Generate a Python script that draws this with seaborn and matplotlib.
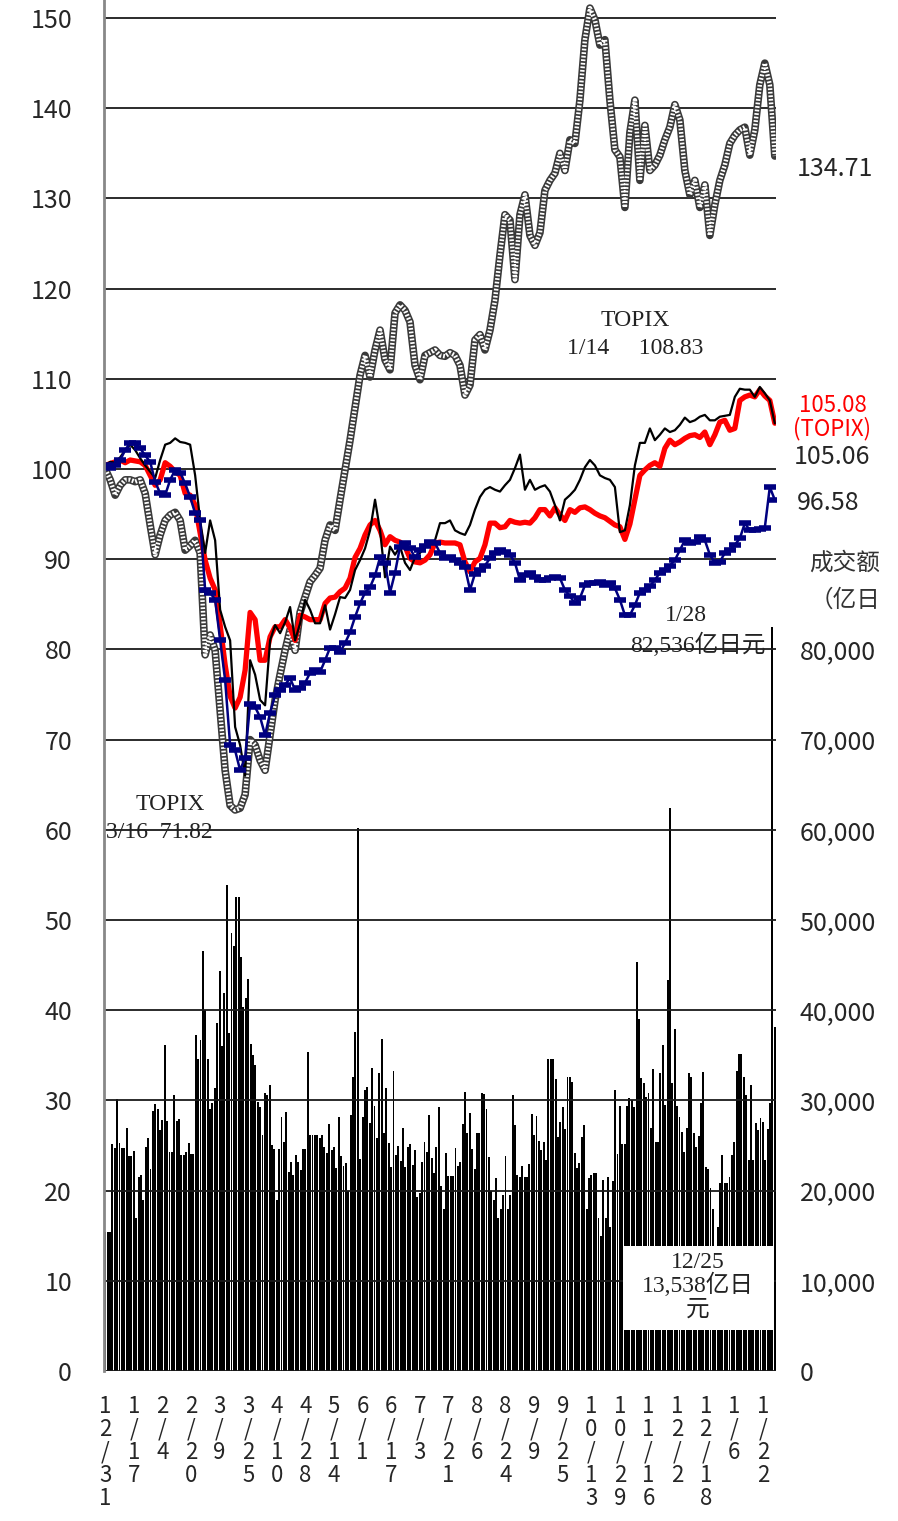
import matplotlib
matplotlib.use("Agg")
import numpy as np
import matplotlib.pyplot as plt
from matplotlib.patches import Rectangle
from matplotlib.ticker import FuncFormatter
import seaborn as sns

W, H = 898, 1521

# daily turnover (亿日元)
volume = [
    15400, 15400, 15400, 25200, 24700, 30200, 25300, 24700, 24700, 26900, 23800, 23800, 24400,
    17000, 21500, 21700, 19000, 24800, 25800, 22400, 28800, 29600, 29000, 26700, 27800, 36100,
    27700, 24300, 24300, 30600, 27700, 27900, 23900, 23900, 24300, 25300, 24100, 24100,
    37300, 34600, 36700, 46600, 40000, 34600, 29000, 29700, 31400, 38600, 44300, 36000, 41900,
    53900, 37500, 48600, 47100, 52500, 52500, 45900, 40400, 41400, 43500, 36300, 35000, 33900,
    29800, 29300, 26200, 30800, 30600, 31700, 25100, 24600,
    19000, 24600, 28200, 25400, 28700, 22100, 23200, 21700, 23900, 23200, 22300, 24600, 24600,
    35400, 26200, 26200, 26200, 26200, 25800, 26200, 24800, 24200, 27400, 24500, 24800, 22500,
    28200, 23800, 22700, 23100, 20000,
    28400, 32600, 37600, 60200, 23500, 28200, 31200, 31500, 27500, 33600, 29400, 25800, 33000,
    36800, 26400, 31400, 25300, 22600, 33300, 24000,
    24900, 23300, 26900, 22600, 24800, 25200, 22800, 24500, 19300, 19700, 23200, 25400, 24300,
    28400, 23600, 22000, 24800, 29300, 20500, 18000,
    24200, 21600, 21600, 21600, 24700, 22700, 23200, 27400, 30900, 26400, 28600, 24600, 22400,
    26400, 26400, 30800, 30700, 29000, 23700, 20000, 19000, 21400, 17000, 18000, 19500, 23800,
    18000, 19500,
    30600, 27300, 21700, 21500, 22700, 21500, 21500, 23000, 28500, 26200, 28300, 25500, 24500,
    25400, 23400, 34600, 34600, 34600, 32400, 25900, 27600, 29300, 26800, 32600, 32600, 32000,
    24200, 22500, 23100, 25900, 27300,
    18000, 21400, 21700, 22000, 22000, 17000, 15000, 21200, 17000, 21500, 16000, 21100, 31200,
    24100, 29400, 25200, 25200, 29400, 30300, 30000, 29300,
    45300, 39000, 32500, 31900, 30400, 30800, 26900, 33500, 25400, 25400, 33000, 36100, 29500,
    43300, 62400, 31900, 37900, 29400, 28200, 26500, 24300, 26900, 33000, 32600, 26400, 24800,
    26100, 29700, 33100, 22600, 22400, 20300,
    18000, 13538, 16000, 20800, 23900, 20800, 20800, 21500, 23900, 25400, 33300, 35100, 35100,
    32600, 30600, 23400, 31700, 23400, 27500, 26700, 28000, 27600, 23400, 26800, 29700, 82536,
    38100,
]

# index lines (12/31 = 100), one reading every two trading days
gray_idx = [
    100.0, 98.8, 97.1, 98.2, 98.8, 98.8, 98.6, 98.8, 97.3, 93.8, 90.5, 92.7, 94.3, 94.9, 95.2,
    94.3, 91.0, 91.5, 92.1, 90.7, 79.4, 81.6, 79.9, 73.3, 66.6, 62.7, 62.2, 62.4, 63.9, 70.0,
    69.4, 67.7, 66.6, 70.5, 74.4, 77.2, 79.9, 82.2, 79.9, 84.1, 85.8, 87.5, 88.2, 89.0, 92.1,
    93.8, 93.2, 96.6, 99.9, 103.2, 106.8, 110.4, 112.6, 110.2, 113.2, 115.4, 112.1, 111.0, 117.3,
    118.2, 117.6, 116.3, 111.5, 109.9, 112.6, 112.9, 113.2, 112.6, 112.5, 112.9, 112.6, 111.5,
    108.2, 109.3, 114.3, 114.9, 113.2, 115.4, 118.7, 123.7, 128.2, 127.6, 121.0, 128.2, 130.4,
    125.9, 124.8, 126.2, 130.9, 132.0, 132.8, 135.0, 133.1, 136.5, 136.1, 140.9, 147.6, 151.1,
    149.8, 147.0, 147.6, 140.9, 135.4, 134.6, 129.0, 137.3, 140.9, 132.0, 138.1, 133.1, 133.7,
    134.8, 136.5, 137.9, 140.4, 138.7, 133.1, 130.4, 132.0, 129.0, 131.5, 125.9, 129.3, 132.0,
    133.7, 136.1, 137.0, 137.6, 137.9, 134.8, 137.6, 142.6, 145.0, 142.6, 134.7,
]
black_idx = [
    100.4, 100.8, 100.7, 101.3, 102.1, 102.7, 102.1, 101.2, 100.4, 99.7, 99.0, 101.0, 102.7,
    102.9, 103.4, 103.0, 102.9, 102.7, 99.3, 94.3, 90.7, 94.3, 92.1, 84.4, 82.5, 81.0, 71.4,
    69.4, 66.0, 78.8, 77.2, 74.4, 73.8, 81.0, 82.7, 81.8, 83.0, 84.7, 81.0, 82.9, 85.5, 84.4,
    82.9, 82.9, 84.9, 82.2, 83.9, 85.8, 85.7, 86.6, 88.8, 89.9, 91.2, 93.2, 96.6, 93.2, 88.0,
    91.4, 90.5, 91.4, 89.6, 88.8, 90.2, 90.7, 91.4, 91.6, 92.1, 94.0, 94.0, 94.3, 93.2, 92.9,
    92.7, 93.8, 95.5, 96.9, 97.7, 98.0, 97.7, 97.5, 98.2, 98.8, 100.1, 101.6, 97.7, 98.8, 97.7,
    98.0, 98.2, 97.5, 96.0, 94.3, 96.6, 97.1, 97.7, 98.8, 100.2, 101.0, 100.4, 99.3, 99.0, 98.8,
    98.0, 93.0, 93.2, 96.0, 100.4, 102.9, 102.9, 104.5, 103.2, 103.8, 104.5, 104.1, 104.3, 104.9,
    105.7, 105.2, 105.4, 105.8, 106.0, 105.4, 105.4, 105.8, 105.9, 106.0, 108.0, 108.9, 108.8,
    108.8, 108.0, 109.1, 108.4, 107.6, 105.06,
]
topix = [
    100.4, 100.6, 100.8, 101.0, 100.7, 101.0, 100.9, 100.8, 100.4, 99.3, 98.2, 98.8, 100.7,
    100.3, 99.7, 99.3, 97.3, 97.1, 96.0, 92.9, 89.9, 87.9, 86.6, 82.7, 78.3, 74.8, 73.5, 74.7,
    77.7, 84.1, 83.3, 78.8, 78.8, 81.4, 82.5, 82.5, 83.3, 82.4, 81.0, 83.8, 83.6, 83.3, 83.3,
    83.3, 85.1, 85.7, 85.8, 86.4, 86.8, 87.9, 90.2, 91.2, 92.7, 93.8, 94.3, 93.2, 91.6, 92.5,
    92.1, 91.9, 91.4, 90.1, 89.7, 89.6, 89.9, 90.5, 91.8, 91.9, 91.8, 91.8, 91.8, 91.6, 89.7,
    88.6, 89.7, 90.1, 91.6, 94.0, 94.0, 93.5, 93.6, 94.3, 94.1, 94.0, 94.1, 94.0, 94.6, 95.5,
    95.5, 94.8, 95.7, 94.9, 94.3, 95.5, 95.2, 95.7, 95.8, 95.5, 95.1, 94.8, 94.6, 94.2, 93.8,
    93.6, 92.2, 93.9, 96.6, 99.3, 99.9, 100.4, 100.7, 100.3, 102.3, 103.2, 102.7, 103.0, 103.4,
    103.7, 103.8, 103.5, 104.1, 102.7, 103.8, 105.2, 105.4, 104.3, 104.5, 107.6, 108.0, 108.2,
    108.0, 108.8, 108.1, 107.6, 105.08,
]
navy_idx = [
    100.4, 100.1, 100.4, 101.0, 102.1, 102.9, 102.9, 102.3, 101.5, 100.8, 98.6, 97.3, 97.1,
    98.8, 99.9, 99.6, 98.4, 96.9, 95.1, 94.3, 86.6, 86.3, 85.5, 81.0, 76.6, 69.4, 68.8, 66.6,
    68.0, 74.0, 73.6, 72.5, 70.5, 73.0, 74.9, 75.5, 76.1, 76.8, 75.5, 75.7, 76.3, 77.4, 77.7,
    77.5, 78.8, 80.2, 80.2, 79.7, 80.7, 81.9, 83.6, 85.1, 86.3, 86.9, 88.2, 90.2, 89.6, 86.3,
    88.5, 91.4, 91.8, 91.2, 90.2, 91.0, 91.5, 91.9, 91.8, 90.7, 90.1, 90.2, 89.9, 89.6, 89.1,
    86.6, 88.4, 88.8, 89.3, 90.1, 90.7, 91.0, 90.8, 90.5, 89.6, 87.7, 88.2, 88.5, 88.0, 87.7,
    87.7, 87.9, 88.0, 87.9, 86.6, 85.9, 85.1, 85.7, 87.1, 87.4, 87.4, 87.5, 87.1, 87.4, 86.8,
    85.5, 83.8, 83.8, 84.9, 86.3, 86.6, 87.0, 87.7, 88.5, 88.8, 89.3, 89.9, 91.0, 92.1, 91.8,
    91.9, 92.5, 92.1, 90.5, 89.6, 89.7, 90.7, 91.0, 91.6, 92.3, 94.0, 93.2, 93.2, 93.3, 93.5,
    98.0, 96.58,
]

date_labels = ["12/31", "1/17", "2/4", "2/20", "3/9", "3/25", "4/10", "4/28", "5/14", "6/1",
               "6/17", "7/3", "7/21", "8/6", "8/24", "9/9", "9/25", "10/13", "10/29", "11/16",
               "12/2", "12/18", "1/6", "1/22"]

sns.set_style("white")
SANS = ["Noto Sans CJK JP", "DejaVu Sans"]
SERIF = ["Liberation Serif", "Noto Sans CJK SC"]
plt.rcParams["font.family"] = SANS


def px(x, y):
    return x / W, 1 - y / H


fig = plt.figure(figsize=(W / 100, H / 100), dpi=100)
ax = fig.add_axes([104 / W, 1 - 1371 / H, 672 / W, 1371 / H])
ax_vol = ax.twinx()

n = len(volume)
days = np.arange(n)

# volume bars on the right axis
sns.barplot(x=days, y=volume, native_scale=True, color="black", width=0.8,
            saturation=1, linewidth=0, errorbar=None, ax=ax_vol)


def line_x(series):
    return np.linspace(0, n - 1, len(series))


# gray index: checkered thick line
sns.lineplot(x=line_x(gray_idx), y=gray_idx, ax=ax, color="#3a3a3a", lw=5.5, sort=False)
sns.lineplot(x=line_x(gray_idx), y=gray_idx, ax=ax, color="white", lw=3.2,
             linestyle=(0, (0.4, 0.4)), sort=False)
sns.lineplot(x=line_x(topix), y=topix, ax=ax, color="#ff0000", lw=3.8, sort=False)
sns.lineplot(x=line_x(black_idx), y=black_idx, ax=ax, color="black", lw=1.6, sort=False)
sns.lineplot(x=line_x(navy_idx), y=navy_idx, ax=ax, color="#000080", lw=1.8,
             marker="_", markersize=9, markeredgewidth=4, markeredgecolor="#000080",
             sort=False)

ax.set_zorder(2)
ax.patch.set_visible(False)

ax.set_xlim(-0.5, n - 0.5)
ax.set_ylim(0, 152)
ax_vol.set_ylim(0, 152000)

ax.set_yticks(range(0, 151, 10))
ax.tick_params(axis="y", length=0, pad=23, labelsize=18)
ax_vol.set_yticks(range(0, 80001, 10000))
ax_vol.yaxis.set_major_formatter(FuncFormatter(lambda v, p: f"{int(v):,}"))
ax_vol.tick_params(axis="y", length=0, pad=17, labelsize=18)

ax.set_xticks(range(0, 12 * len(date_labels), 12))
ax.set_xticklabels(["\n".join(s) for s in date_labels], fontsize=16, linespacing=1.0)
ax.tick_params(axis="x", length=0, pad=17)

ax.grid(axis="y", color="#1a1a1a", lw=1.3)
ax.grid(axis="x", visible=False)
ax_vol.grid(False)
for a in (ax, ax_vol):
    a.set_xlabel("")
    a.set_ylabel("")
    for s in ("top", "right", "bottom"):
        a.spines[s].set_visible(False)
ax_vol.spines["left"].set_visible(False)
ax.spines["left"].set_color("#888888")
ax.spines["left"].set_linewidth(2)

# right-hand value labels
fig.text(*px(797, 169), "134.71", fontsize=18, va="center", ha="left")
fig.text(*px(794, 457), "105.06", fontsize=18, va="center", ha="left")
fig.text(*px(797, 503), "96.58", fontsize=18, va="center", ha="left")
fig.text(*px(833, 405), "105.08", fontsize=16, va="center", ha="center", color="#ff0000")
fig.text(*px(832, 429), "(TOPIX)", fontsize=16, va="center", ha="center", color="#ff0000")
fig.text(*px(880, 563), "成交额", fontsize=17, va="center", ha="right", color="#333333",
         family=SERIF)
fig.text(*px(880, 600), "（亿日", fontsize=17, va="center", ha="right", color="#333333",
         family=SERIF)

# annotations
ann = dict(fontsize=17, va="center", color="#222222", family=SERIF)
fig.text(*px(635, 320), "TOPIX", ha="center", **ann)
fig.text(*px(635, 349), "1/14\u3000 108.83", ha="center", **ann)
fig.text(*px(170, 804), "TOPIX", ha="center", **ann)
fig.text(*px(106, 833), "3/16  71.82", ha="left", **ann)
fig.text(*px(686, 615), "1/28", ha="center", **ann)
fig.text(*px(698, 645), "82,536亿日元", ha="center", **ann)

bx0, by0 = px(623, 1330)
bx1, by1 = px(774, 1246)
fig.patches.append(Rectangle((bx0, by0), bx1 - bx0, by1 - by0, transform=fig.transFigure,
                             facecolor="white", edgecolor="none", zorder=2.5))
fig.text(*px(698, 1262), "12/25", ha="center", **ann)
fig.text(*px(698, 1285), "13,538亿日", ha="center", **ann)
fig.text(*px(698, 1310), "元", ha="center", **ann)

fig.savefig("out.png", dpi=100)
